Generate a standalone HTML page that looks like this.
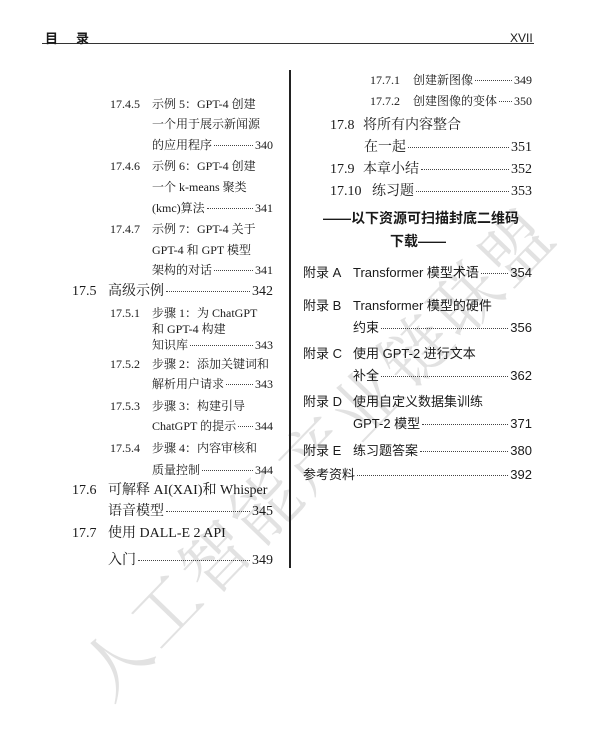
<!DOCTYPE html>
<html><head><meta charset="utf-8"><style>
html,body{margin:0;padding:0;background:#fff;}
body{width:602px;height:745px;position:relative;overflow:hidden;font-family:"Liberation Serif","Noto Serif CJK SC",serif;color:#1a1a1a;}
.r{position:absolute;display:flex;align-items:baseline;white-space:nowrap;line-height:16px;}
.s{font-size:12px;}
.m{font-size:14px;}
.a{font-family:"Liberation Sans","Noto Sans CJK SC",sans-serif;font-size:13px;}
.l{flex:1;border-bottom:1.5px dotted #444;margin:0 2px;position:relative;top:-3px;}
#wm{position:absolute;left:65px;top:660px;font-family:"Noto Serif CJK SC",serif;font-size:68px;line-height:68px;color:#e2e2e2;transform:rotate(-46deg);transform-origin:0 0;white-space:nowrap;letter-spacing:4px;}
</style></head><body>
<div id="wm">人工智能产业链联盟</div>
<div style="position:absolute;left:42px;top:43px;width:492px;height:1px;background:#333"></div>
<div style="position:absolute;left:45px;top:28px;font-size:13px;font-family:'Liberation Sans','Noto Sans CJK SC',sans-serif;font-weight:bold;">目&nbsp;&nbsp;&nbsp;&nbsp;&nbsp;录</div>
<div style="position:absolute;left:510px;top:31px;font-size:12px;font-family:'Liberation Sans',sans-serif;">XVII</div>
<div style="position:absolute;left:289px;top:70px;width:1.5px;height:498px;background:#222"></div>

<!-- left column -->
<div class="r s" style="left:110px;top:96px"><span style="width:42px">17.4.5</span>示例 5：GPT-4 创建</div>
<div class="r s" style="left:152px;top:116px">一个用于展示新闻源</div>
<div class="r s" style="left:152px;top:137px;width:121px">的应用程序<span class="l"></span>340</div>
<div class="r s" style="left:110px;top:158px"><span style="width:42px">17.4.6</span>示例 6：GPT-4 创建</div>
<div class="r s" style="left:152px;top:179px">一个 k-means 聚类</div>
<div class="r s" style="left:152px;top:200px;width:121px">(kmc)算法<span class="l"></span>341</div>
<div class="r s" style="left:110px;top:221px"><span style="width:42px">17.4.7</span>示例 7：GPT-4 关于</div>
<div class="r s" style="left:152px;top:242px">GPT-4 和 GPT 模型</div>
<div class="r s" style="left:152px;top:262px;width:121px">架构的对话<span class="l"></span>341</div>
<div class="r m" style="left:72px;top:284px;width:201px"><span style="width:36px">17.5</span>高级示例<span class="l"></span>342</div>
<div class="r s" style="left:110px;top:305px"><span style="width:42px">17.5.1</span>步骤 1：为 ChatGPT</div>
<div class="r s" style="left:152px;top:321px">和 GPT-4 构建</div>
<div class="r s" style="left:152px;top:337px;width:121px">知识库<span class="l"></span>343</div>
<div class="r s" style="left:110px;top:356px"><span style="width:42px">17.5.2</span>步骤 2：添加关键词和</div>
<div class="r s" style="left:152px;top:376px;width:121px">解析用户请求<span class="l"></span>343</div>
<div class="r s" style="left:110px;top:398px"><span style="width:42px">17.5.3</span>步骤 3：构建引导</div>
<div class="r s" style="left:152px;top:418px;width:121px">ChatGPT 的提示<span class="l"></span>344</div>
<div class="r s" style="left:110px;top:440px"><span style="width:42px">17.5.4</span>步骤 4：内容审核和</div>
<div class="r s" style="left:152px;top:462px;width:121px">质量控制<span class="l"></span>344</div>
<div class="r m" style="left:72px;top:483px"><span style="width:36px">17.6</span>可解释 AI(XAI)和 Whisper</div>
<div class="r m" style="left:108px;top:504px;width:165px">语音模型<span class="l"></span>345</div>
<div class="r m" style="left:72px;top:526px"><span style="width:36px">17.7</span>使用 DALL-E 2 API</div>
<div class="r m" style="left:108px;top:553px;width:165px">入门<span class="l"></span>349</div>

<!-- right column -->
<div class="r s" style="left:370px;top:72px;width:162px"><span style="width:43px">17.7.1</span>创建新图像<span class="l"></span>349</div>
<div class="r s" style="left:370px;top:93px;width:162px"><span style="width:43px">17.7.2</span>创建图像的变体<span class="l"></span>350</div>
<div class="r m" style="left:330px;top:118px"><span style="width:33px">17.8</span>将所有内容整合</div>
<div class="r m" style="left:364px;top:140px;width:168px">在一起<span class="l"></span>351</div>
<div class="r m" style="left:330px;top:162px;width:202px"><span style="width:33px">17.9</span>本章小结<span class="l"></span>352</div>
<div class="r m" style="left:330px;top:184px;width:202px"><span style="width:42px">17.10</span>练习题<span class="l"></span>353</div>
<div class="r" style="left:323px;top:210px;font-size:14px;font-weight:bold;font-family:'Liberation Sans','Noto Sans CJK SC',sans-serif;">——以下资源可扫描封底二维码</div>
<div class="r" style="left:390px;top:233px;font-size:14px;font-weight:bold;font-family:'Liberation Sans','Noto Sans CJK SC',sans-serif;">下载——</div>
<div class="r a" style="left:303px;top:265px;width:229px"><span style="width:50px">附录 A</span>Transformer 模型术语<span class="l"></span>354</div>
<div class="r a" style="left:303px;top:298px"><span style="width:50px">附录 B</span>Transformer 模型的硬件</div>
<div class="r a" style="left:353px;top:320px;width:179px">约束<span class="l"></span>356</div>
<div class="r a" style="left:303px;top:346px"><span style="width:50px">附录 C</span>使用 GPT-2 进行文本</div>
<div class="r a" style="left:353px;top:368px;width:179px">补全<span class="l"></span>362</div>
<div class="r a" style="left:303px;top:394px"><span style="width:50px">附录 D</span>使用自定义数据集训练</div>
<div class="r a" style="left:353px;top:416px;width:179px">GPT-2 模型<span class="l"></span>371</div>
<div class="r a" style="left:303px;top:443px;width:229px"><span style="width:50px">附录 E</span>练习题答案<span class="l"></span>380</div>
<div class="r a" style="left:303px;top:467px;width:229px">参考资料<span class="l"></span>392</div>
</body></html>
